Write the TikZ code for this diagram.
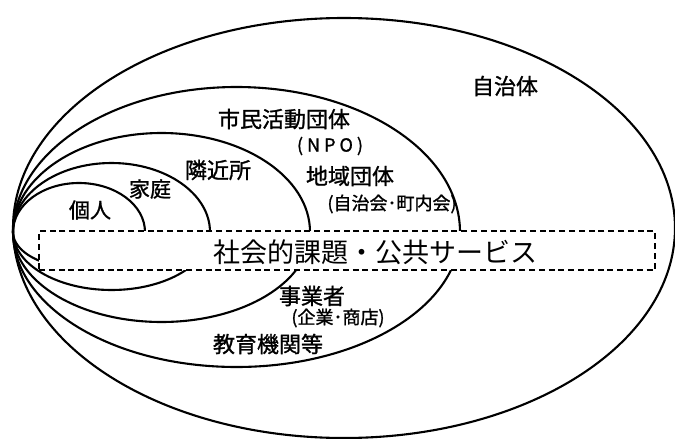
\documentclass[tikz,border=0pt]{standalone}
\usepackage{fontspec}
\setmainfont{Noto Sans CJK JP}
\newfontfamily\jp{Noto Sans CJK JP}
\newfontfamily\jpb{Noto Sans CJK JP}[FakeBold=1.2]
\begin{document}
\begin{tikzpicture}[x=1pt,y=-1pt,
  curve/.style={line width=2.1pt},
  dashbox/.style={draw, dash pattern=on 6pt off 3.8pt, line width=1.4pt, fill=white, inner sep=0pt},
  lbl/.style={inner sep=0pt, font=\jpb\fontsize{#1}{#1}\selectfont},
  lbl/.default=21]
\useasboundingbox (0,0) rectangle (675,439);
\coordinate (L) at (13,232);
% outer ellipse
\draw[curve] (344,228) ellipse [x radius=331pt, y radius=210pt];
% kojin
\draw[curve] (L) arc[start angle=180, end angle=0, x radius=66pt, y radius=49pt];
\draw[curve] (L) arc[start angle=180, end angle=360, x radius=66pt, y radius=36pt];
% katei
\draw[curve] (L) arc[start angle=180, end angle=0, x radius=98.5pt, y radius=69pt];
\draw[curve] (L) arc[start angle=180, end angle=360, x radius=98.5pt, y radius=58pt];
% rinkinjo
\draw[curve] (L) arc[start angle=180, end angle=0, x radius=148.5pt, y radius=99pt];
\draw[curve] (L) arc[start angle=180, end angle=360, x radius=148.5pt, y radius=90pt];
% shimin
\draw[curve] (L) arc[start angle=180, end angle=0, x radius=223.5pt, y radius=145pt];
\draw[curve] (L) arc[start angle=180, end angle=360, x radius=223.5pt, y radius=135pt];
% box
\node[dashbox, minimum width=616pt, minimum height=39pt] (box) at (347,250.5) {};
\node[inner sep=0pt, font=\jp\fontsize{27}{27}\selectfont] (main) at (375,252) {社会的課題・公共サービス};
% labels
\node[lbl=22] (jichitai) at (505,86) {自治体};
\node[lbl=22] (shimin) at (284,119) {市民活動団体};
\node[lbl=18] (npo) at (330,146) {( N P O )};
\node[lbl=22] (chiiki) at (350,176) {地域団体};
\node[lbl=18] (chonai) at (392,204) {(自治会･町内会)};
\node[lbl=22] (rinkin) at (218,170) {隣近所};
\node[lbl=21] (katei) at (150,189) {家庭};
\node[lbl=21] (kojin) at (90,210) {個人};
\node[lbl=22] (jigyo) at (312,296) {事業者};
\node[lbl=18] (kigyo) at (338,318) {(企業･商店)};
\node[lbl=22] (kyoiku) at (268,344) {教育機関等};
\end{tikzpicture}
\end{document}
